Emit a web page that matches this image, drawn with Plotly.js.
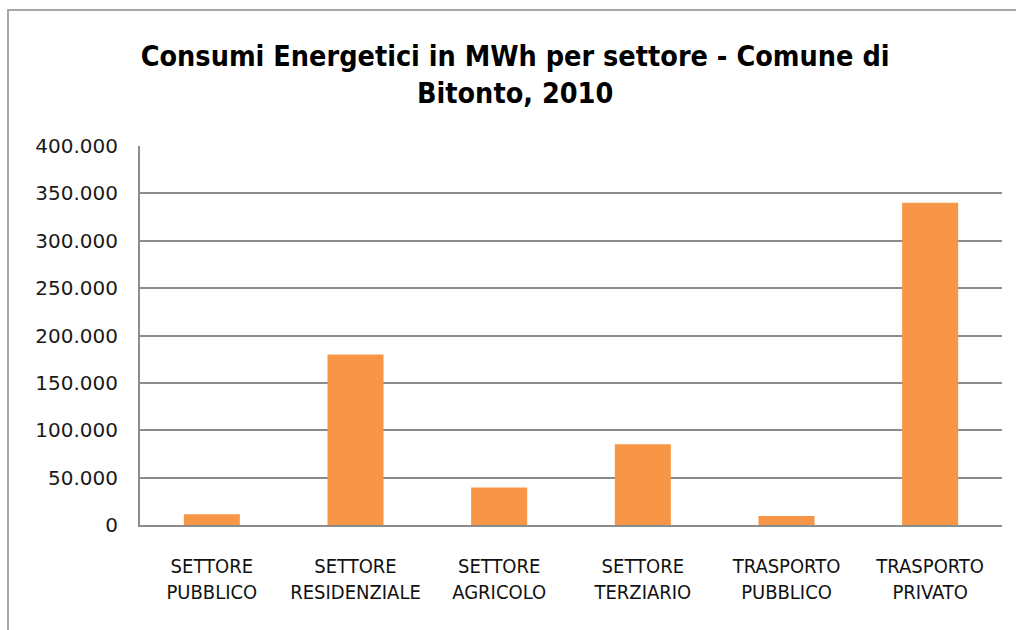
<!DOCTYPE html>
<html>
<head>
<meta charset="utf-8">
<script src="https://cdn.plot.ly/plotly-3.0.1.min.js"></script>
<style>
  html, body { margin: 0; padding: 0; background: #ffffff; }
  #wrap { position: relative; width: 1016px; height: 630px; overflow: hidden; }
  #chart { width: 1016px; height: 630px; }
  #frame { position: absolute; left: 7px; top: 9px; width: 1030px; height: 640px;
           border-top: 2px solid #a6a6a6; border-left: 2px solid #a6a6a6; pointer-events: none; }
</style>
</head>
<body>
<div id="wrap">
  <div id="chart"></div>
  <div id="frame"></div>
</div>
<script>
const categories = [
  "SETTORE<br>PUBBLICO",
  "SETTORE<br>RESIDENZIALE",
  "SETTORE<br>AGRICOLO",
  "SETTORE<br>TERZIARIO",
  "TRASPORTO<br>PUBBLICO",
  "TRASPORTO<br>PRIVATO"
];
const consumiMWh = [11300, 180000, 39700, 85200, 9500, 340200];
const yTickValues = [0, 50000, 100000, 150000, 200000, 250000, 300000, 350000, 400000];
const chartTitle = "Consumi Energetici in MWh per settore - Comune di<br>Bitonto, 2010";

const narrow = "'DejaVu Sans Condensed', 'Roboto', sans-serif";

Plotly.newPlot("chart", [{
  type: "bar",
  x: categories,
  y: consumiMWh,
  marker: { color: "#F79646", line: { width: 0 } },
  hoverinfo: "x+y"
}], {
  width: 1016,
  height: 630,
  margin: { l: 140, r: 14, t: 146, b: 105 },
  paper_bgcolor: "#ffffff",
  plot_bgcolor: "#ffffff",
  separators: ",.",
  bargap: 0.61,
  showlegend: false,
  title: {
    text: "<b>" + chartTitle + "</b>",
    font: { family: narrow, size: 28.5, color: "#000000" },
    x: 0.507, xanchor: "center",
    y: 0.895, yanchor: "top"
  },
  xaxis: {
    type: "category",
    showgrid: false,
    showline: true,
    linecolor: "#8c8c8c",
    linewidth: 2,
    ticks: "",
    ticklabelstandoff: 22,
    tickfont: { family: narrow, size: 20, color: "#111111" }
  },
  yaxis: {
    range: [0, 400000],
    tickvals: yTickValues,
    tickformat: ",d",
    showgrid: true,
    gridcolor: "#8c8c8c",
    gridwidth: 2,
    showline: true,
    linecolor: "#8c8c8c",
    linewidth: 2,
    zeroline: false,
    ticks: "",
    ticklabelstandoff: 16,
    tickfont: { family: "'DejaVu Sans', Verdana, sans-serif", size: 20, color: "#1a1a1a" }
  }
}, { displayModeBar: false, staticPlot: true });
</script>
</body>
</html>
